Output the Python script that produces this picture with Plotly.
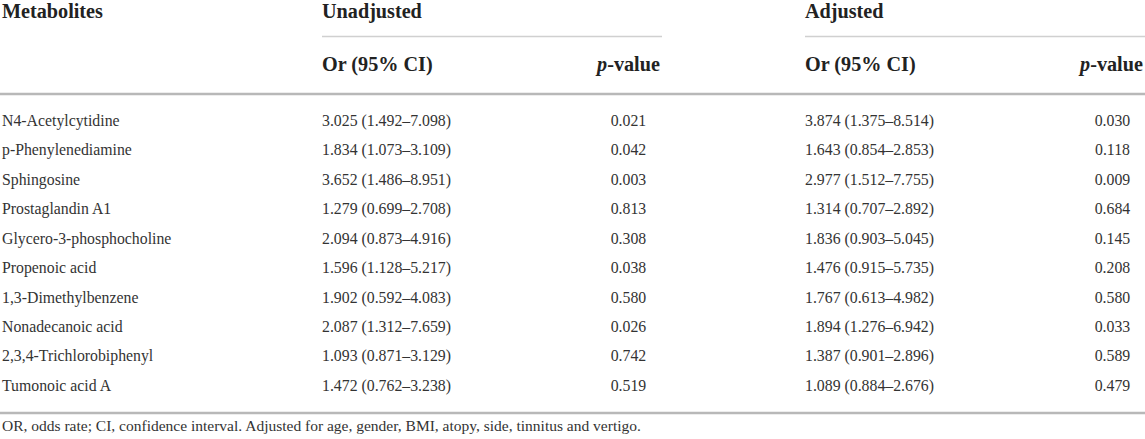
import plotly.graph_objects as go

metabolites = ["N4-Acetylcytidine", "p-Phenylenediamine", "Sphingosine", "Prostaglandin A1",
               "Glycero-3-phosphocholine", "Propenoic acid", "1,3-Dimethylbenzene",
               "Nonadecanoic acid", "2,3,4-Trichlorobiphenyl", "Tumonoic acid A"]
unadj_or = ["3.025 (1.492–7.098)", "1.834 (1.073–3.109)", "3.652 (1.486–8.951)",
            "1.279 (0.699–2.708)", "2.094 (0.873–4.916)", "1.596 (1.128–5.217)",
            "1.902 (0.592–4.083)", "2.087 (1.312–7.659)", "1.093 (0.871–3.129)",
            "1.472 (0.762–3.238)"]
unadj_p = ["0.021", "0.042", "0.003", "0.813", "0.308", "0.038", "0.580", "0.026", "0.742", "0.519"]
adj_or = ["3.874 (1.375–8.514)", "1.643 (0.854–2.853)", "2.977 (1.512–7.755)",
          "1.314 (0.707–2.892)", "1.836 (0.903–5.045)", "1.476 (0.915–5.735)",
          "1.767 (0.613–4.982)", "1.894 (1.276–6.942)", "1.387 (0.901–2.896)",
          "1.089 (0.884–2.676)"]
adj_p = ["0.030", "0.118", "0.009", "0.684", "0.145", "0.208", "0.580", "0.033", "0.589", "0.479"]
footnote = "OR, odds rate; CI, confidence interval. Adjusted for age, gender, BMI, atopy, side, tinnitus and vertigo."

W, H = 1145, 439
FONT = "Liberation Serif"
body = dict(family=FONT, size=15.8, color="#333333")
head = dict(family=FONT, size=20.2, color="#222222")

row0, pitch = 122, 29.44
rows_y = [row0 + i * pitch for i in range(len(metabolites))]

x_met, x_uor, x_up, x_aor, x_ap = 2, 322, 628.5, 805, 1112.5

fig = go.Figure()

def col(xpos, texts, pos, font):
    fig.add_trace(go.Scatter(x=[xpos] * len(texts), y=rows_y, text=texts, mode="text",
                             textposition=pos, textfont=font, hoverinfo="skip",
                             showlegend=False, cliponaxis=False))

col(x_met, metabolites, "middle right", body)
col(x_uor, unadj_or, "middle right", body)
col(x_up, unadj_p, "middle center", body)
col(x_aor, adj_or, "middle right", body)
col(x_ap, adj_p, "middle center", body)

def hdr(xs, ys, texts, pos, font):
    fig.add_trace(go.Scatter(x=xs, y=ys, text=texts, mode="text", textposition=pos,
                             textfont=font, hoverinfo="skip", showlegend=False,
                             cliponaxis=False))

hdr([x_met, x_uor, x_aor], [12.5, 12.5, 12.5],
    ["<b>Metabolites</b>", "<b>Unadjusted</b>", "<b>Adjusted</b>"], "middle right", head)
hdr([x_uor, x_aor], [66, 66], ["<b>Or (95% CI)</b>", "<b>Or (95% CI)</b>"], "middle right", head)
hdr([628.5, 1111.5], [66, 66], ["<b><i>p</i>-value</b>", "<b><i>p</i>-value</b>"], "middle center", head)
hdr([x_met], [427], [footnote], "middle right", dict(family=FONT, size=15.5, color="#333333"))

shapes = [
    dict(type="line", x0=322, x1=662, y0=36.5, y1=36.5, line=dict(color="#d0d0d0", width=1.3)),
    dict(type="line", x0=805, x1=W, y0=36.5, y1=36.5, line=dict(color="#d0d0d0", width=1.3)),
    dict(type="line", x0=0, x1=W, y0=94, y1=94, line=dict(color="#b8b8b8", width=2.4)),
    dict(type="line", x0=0, x1=W, y0=413, y1=413, line=dict(color="#b8b8b8", width=2.4)),
]
for s in shapes:
    s.update(xref="x", yref="y", layer="below")

fig.update_layout(
    width=W, height=H, margin=dict(l=0, r=0, t=0, b=0),
    paper_bgcolor="white", plot_bgcolor="white", shapes=shapes,
    xaxis=dict(range=[0, W], visible=False, fixedrange=True),
    yaxis=dict(range=[H, 0], visible=False, fixedrange=True),
)
fig.write_html("out.html", config={"displayModeBar": False},
               post_script="document.body.style.margin='0';document.body.style.overflow='hidden';")
